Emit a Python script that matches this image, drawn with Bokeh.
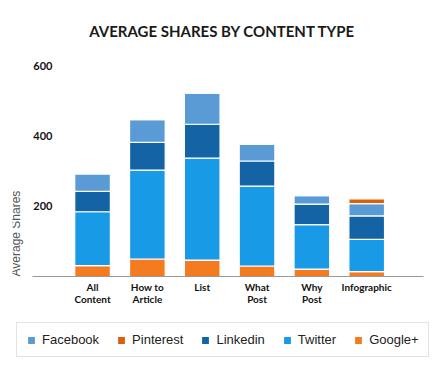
import math
from bokeh.plotting import figure
from bokeh.models import (Range1d, FixedTicker, Legend, LegendItem, Label)
from bokeh.embed import file_html
from bokeh.resources import INLINE

# ---- data ----
categories = ["All\nContent", "How to\nArticle", "List", "What\nPost", "Why\nPost", "Infographic"]
google_plus = [31, 50, 47, 30, 21, 14]
twitter = [154, 254, 291, 228, 127, 92]
linkedin = [58, 79, 97, 72, 59, 67]
facebook = [50, 65, 89, 48, 24, 35]
pinterest = [0, 0, 0, 0, 0, 14]
y_ticks = [200, 400, 600]

stack_keys = ["Google+", "Twitter", "Linkedin", "Facebook", "Pinterest"]
colors = {"Google+": "#f47b20", "Twitter": "#199ae6", "Linkedin": "#1464a5",
          "Facebook": "#5a9bd5", "Pinterest": "#de5f0b"}
legend_order = ["Facebook", "Pinterest", "Linkedin", "Twitter", "Google+"]

xpos = list(range(len(categories)))
source = dict(x=xpos, **{"Google+": google_plus, "Twitter": twitter,
                         "Linkedin": linkedin, "Facebook": facebook,
                         "Pinterest": pinterest})

p = figure(width=441, height=377, output_backend="svg", toolbar_location=None,
           x_range=Range1d(-1.46, 6.2),
           y_range=Range1d(-288.6, 640),
           min_border_left=12, min_border_right=9,
           min_border_top=52, min_border_bottom=0)

p.title.text = "AVERAGE SHARES BY CONTENT TYPE"
p.title.align = "center"
p.title.text_font = "Lato"
p.title.text_font_size = "15px"
p.title.text_font_style = "bold"
p.title.text_color = "#1a1a1a"
p.title.standoff = 26

renderers = p.vbar_stack(stack_keys, x="x", width=0.65, source=source,
                         color=[colors[k] for k in stack_keys],
                         line_color="white", line_width=1.2)
rmap = dict(zip(stack_keys, renderers))

p.outline_line_color = None
p.xgrid.grid_line_color = None
p.ygrid.grid_line_color = None
p.background_fill_color = "white"

# x axis, pinned at zero inside the frame
xa = p.xaxis[0]
xa.fixed_location = 0
xa.bounds = (-1.09, 6.03)
xa.ticker = FixedTicker(ticks=xpos)
xa.major_label_overrides = {i: c for i, c in zip(xpos, categories)}
xa.axis_line_color = "#999999"
xa.axis_line_width = 1.2
xa.major_tick_line_color = None
xa.minor_tick_line_color = None
xa.major_label_text_font = "Lato"
xa.major_label_text_font_style = "bold"
xa.major_label_text_font_size = "10px"
xa.major_label_text_color = "#111111"
xa.major_label_text_line_height = 0.92
xa.major_label_standoff = -1

# y axis (tick labels drawn inside the frame)
ya = p.yaxis[0]
ya.ticker = FixedTicker(ticks=y_ticks)
ya.axis_line_color = None
ya.major_tick_line_color = None
ya.minor_tick_line_color = None
ya.major_label_text_font = "Lato"
ya.major_label_text_font_style = "bold"
ya.major_label_text_font_size = "11px"
ya.major_label_text_color = "#111111"
ya.major_label_standoff = -46

p.add_layout(Label(x=3, x_units="screen", y=0, y_units="data",
                   text="Average Shares", angle=math.pi / 2,
                   text_align="left", text_baseline="middle",
                   text_font="Liberation Sans", text_font_size="12px",
                   text_color="#555555"))

legend = Legend(items=[LegendItem(label=k, renderers=[rmap[k]]) for k in legend_order],
                orientation="horizontal", location=(4, 20),
                glyph_width=10, glyph_height=10, label_height=13,
                label_standoff=6, spacing=17, padding=9, margin=0,
                label_text_font="Liberation Sans", label_text_font_size="13px",
                label_text_color="#222222",
                border_line_color="#c8c8c8", border_line_width=1,
                background_fill_color="white", background_fill_alpha=1)
p.add_layout(legend, "center")

open("out.html", "w").write(file_html(p, INLINE))
